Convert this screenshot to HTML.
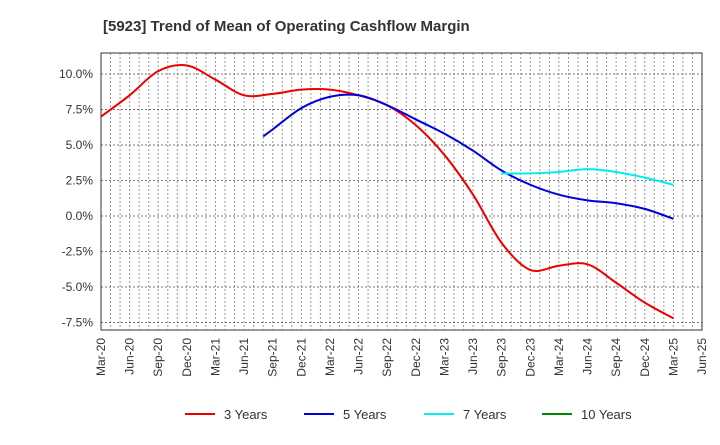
<!DOCTYPE html>
<html><head><meta charset="utf-8"><style>
body{margin:0;background:#fff;font-family:"Liberation Sans",Arial,sans-serif}
</style></head><body>
<svg id="c" width="720" height="440" xmlns="http://www.w3.org/2000/svg">
<text x="103" y="31" font-size="15" font-weight="bold" fill="#333">[5923]  Trend of Mean of Operating Cashflow Margin</text>
<g id="grid"></g><g id="axes"></g><g id="series"></g><g id="legend"></g>
</svg>
<script>
const xLabels=["Mar-20","Jun-20","Sep-20","Dec-20","Mar-21","Jun-21","Sep-21","Dec-21","Mar-22","Jun-22","Sep-22","Dec-22","Mar-23","Jun-23","Sep-23","Dec-23","Mar-24","Jun-24","Sep-24","Dec-24","Mar-25","Jun-25"];
const yTicks=[10,7.5,5,2.5,0,-2.5,-5,-7.5];
const y3Months=[0,3,6,9,12,15,18,21,24,27,30,33,36,39,42,45,48,51,54,57,60];
const y3Vals=[7.0,8.5,10.2,10.6,9.6,8.5,8.6,8.9,8.9,8.5,7.8,6.4,4.3,1.5,-1.9,-3.8,-3.5,-3.4,-4.7,-6.1,-7.2];
const y5Months=[17,18,21,24,27,30,33,36,39,42,45,48,51,54,57,60];
const y5Vals=[5.6,6.1,7.6,8.4,8.5,7.8,6.8,5.8,4.6,3.2,2.2,1.5,1.1,0.9,0.5,-0.2];
const y7Months=[42,45,48,51,54,57,60];
const y7Vals=[3.0,3.0,3.1,3.3,3.1,2.7,2.2];
const y10Months=[];const y10Vals=[];
const L=101,R=702,T=53,B=330;
const xs=m=>L+m*(R-L)/63;
const ys=v=>216-v*(35.5/2.5);
const NS="http://www.w3.org/2000/svg";
function mk(t,a,p){const e=document.createElementNS(NS,t);for(const k in a)e.setAttribute(k,a[k]);p.appendChild(e);return e;}
const grid=document.getElementById('grid'),axes=document.getElementById('axes'),ser=document.getElementById('series'),leg=document.getElementById('legend');
for(let m=1;m<63;m++){const l=mk('line',{x1:xs(m),x2:xs(m),y1:T,y2:B,stroke:'#999','stroke-dasharray':'2,2','stroke-width':1},grid);

}
yTicks.forEach(v=>{const l=mk('line',{x1:L,x2:R,y1:ys(v),y2:ys(v),stroke:'#777','stroke-dasharray':'2,2'},grid);


const t=mk('text',{x:L-8,y:ys(v)+4,'text-anchor':'end','font-size':12,fill:'#333'},axes);t.textContent=v.toFixed(1)+'%';

});
const fr=mk('rect',{x:L,y:T,width:R-L,height:B-T,fill:'none',stroke:'#333','stroke-width':1},axes);


xLabels.forEach((s,i)=>{const x=xs(i*3);const t=mk('text',{x:0,y:0,'text-anchor':'end','font-size':12,fill:'#333',transform:`translate(${x+4},${B+8}) rotate(-90)`},axes);t.textContent=s;

});
function path(ms,vs){const p=ms.map((m,i)=>[xs(m),ys(vs[i])]);if(p.length<2)return '';let d=`M${p[0][0]},${p[0][1]}`;
for(let i=0;i<p.length-1;i++){const p0=p[i-1]||p[i],p1=p[i],p2=p[i+1],p3=p[i+2]||p2;
d+=` C${p1[0]+(p2[0]-p0[0])/6},${p1[1]+(p2[1]-p0[1])/6} ${p2[0]-(p3[0]-p1[0])/6},${p2[1]-(p3[1]-p1[1])/6} ${p2[0]},${p2[1]}`;}return d;}
[[y3Months,y3Vals,'#e00','series-3-years'],[y5Months,y5Vals,'#00d','series-5-years'],[y7Months,y7Vals,'#0ee','series-7-years'],[y10Months,y10Vals,'#080','series-10-years']].forEach(s=>{
const d=path(s[0],s[1]);if(!d)return;const e=mk('path',{d:d,fill:'none',stroke:s[2],'stroke-width':2},ser);

});
[['3 Years','#e00',185],['5 Years','#00d',304],['7 Years','#0ee',424],['10 Years','#080',542]].forEach(g=>{
const l=mk('line',{x1:g[2],x2:g[2]+30,y1:414,y2:414,stroke:g[1],'stroke-width':2},leg);


const t=mk('text',{x:g[2]+39,y:419,'font-size':13,fill:'#333'},leg);t.textContent=g[0];

});
</script>
</body></html>
